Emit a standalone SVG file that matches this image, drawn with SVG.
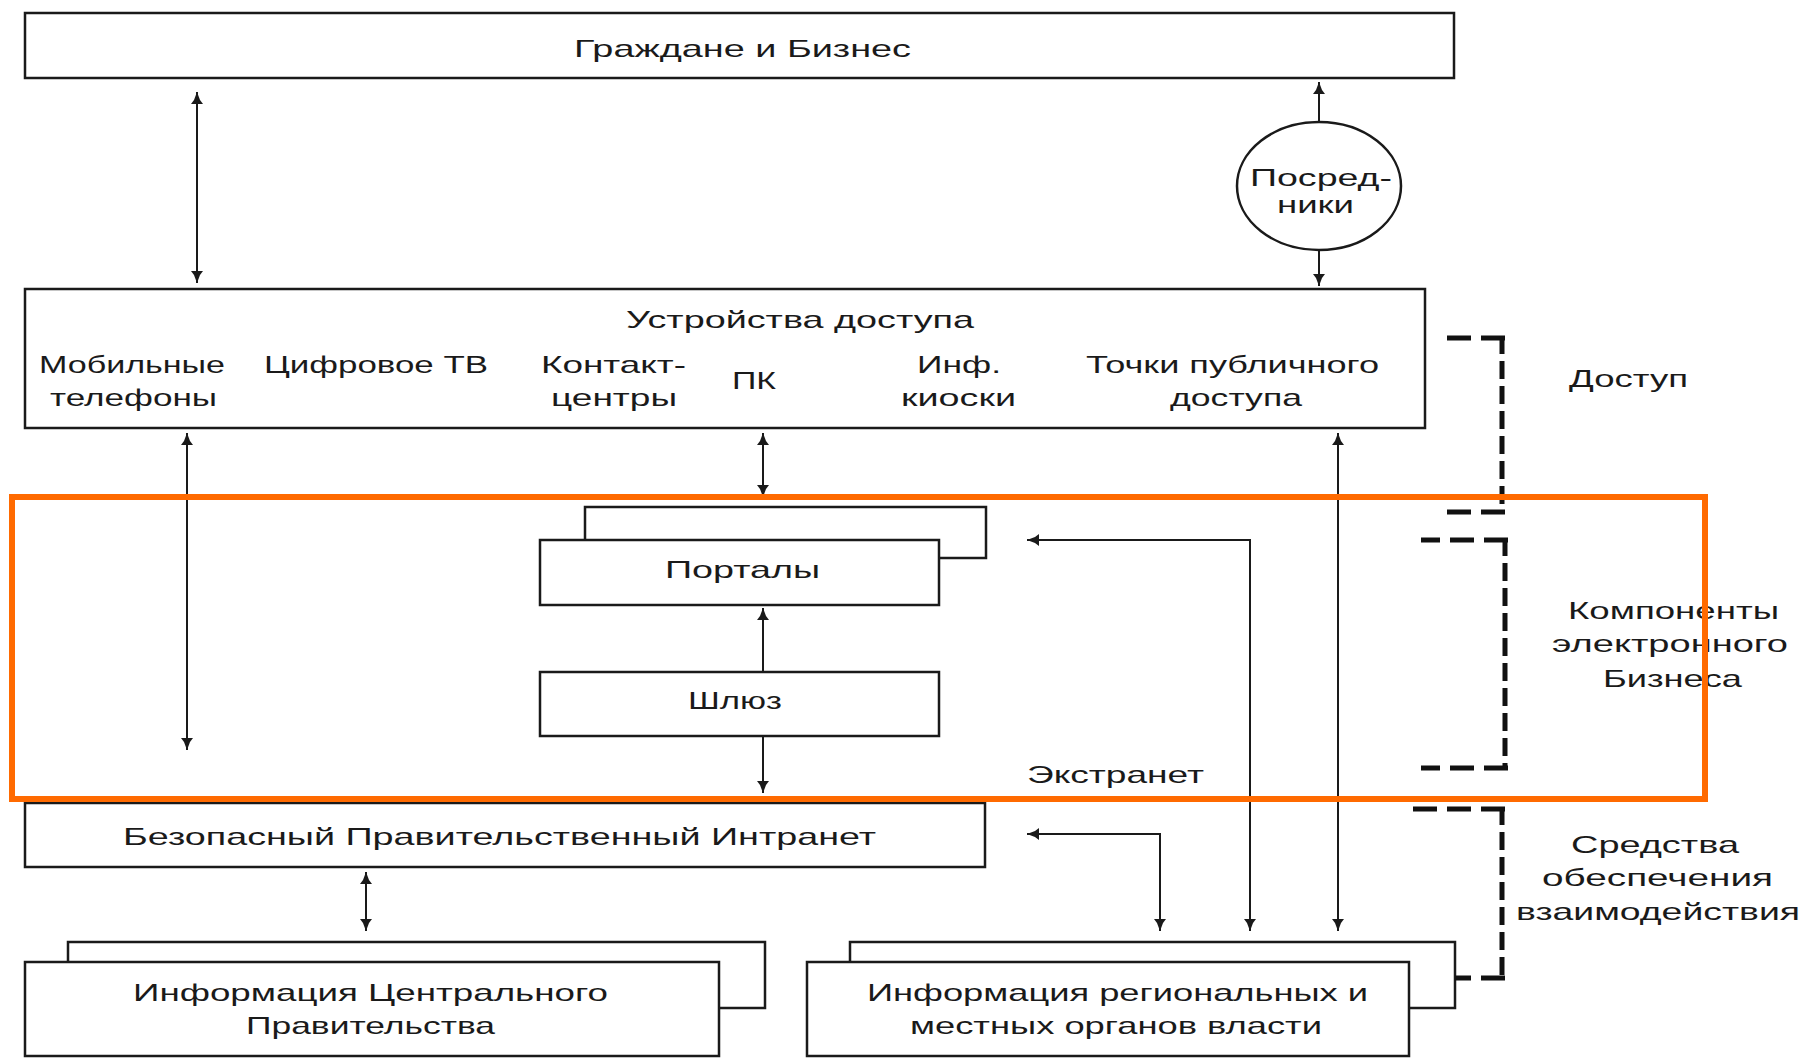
<svg xmlns="http://www.w3.org/2000/svg" width="1807" height="1058" viewBox="0 0 1807 1058">
  <style>
    .box { fill: #ffffff; stroke: #1a1a1a; stroke-width: 2.5; }
    .lbl { font-family: "Liberation Sans", Arial, sans-serif; font-size: 24px; fill: #1a1a1a; }
    .wire { fill: none; stroke: #1a1a1a; stroke-width: 2; }
    .dash-h { fill: none; stroke: #111111; stroke-width: 5; stroke-dasharray: 24 10; }
    .dash-v { fill: none; stroke: #111111; stroke-width: 5; stroke-dasharray: 18 7; }
    .frame { fill: none; stroke: #ff6a00; stroke-width: 6; }
  </style>
  <defs>
    <marker id="head" viewBox="0 0 12 12" refX="12" refY="6" markerWidth="12" markerHeight="12" markerUnits="userSpaceOnUse" orient="auto-start-reverse">
      <path d="M0,0 L4,3 L12,6 L4,9 L0,12 z" fill="#1a1a1a"/>
    </marker>
  </defs>
  <rect width="1807" height="1058" fill="#ffffff"/>

  <!-- Citizens and business -->
  <g id="citizens">
    <rect class="box" x="25" y="13" width="1429" height="65"/>
    <text class="lbl" x="574" y="57" textLength="337" lengthAdjust="spacingAndGlyphs">Граждане и Бизнес</text>
  </g>

  <!-- Intermediaries -->
  <g id="intermediaries">
    <ellipse class="box" cx="1319" cy="186" rx="82" ry="64"/>
    <text class="lbl" x="1250" y="186" textLength="142" lengthAdjust="spacingAndGlyphs">Посред-</text>
    <text class="lbl" x="1277" y="213" textLength="77" lengthAdjust="spacingAndGlyphs">ники</text>
  </g>

  <!-- Access devices -->
  <g id="access-devices">
    <rect class="box" x="25" y="289" width="1400" height="139"/>
    <text class="lbl" x="626" y="328" textLength="348" lengthAdjust="spacingAndGlyphs">Устройства доступа</text>
    <text class="lbl" x="39" y="373" textLength="186" lengthAdjust="spacingAndGlyphs">Мобильные</text>
    <text class="lbl" x="50" y="406" textLength="167" lengthAdjust="spacingAndGlyphs">телефоны</text>
    <text class="lbl" x="264" y="373" textLength="224" lengthAdjust="spacingAndGlyphs">Цифровое ТВ</text>
    <text class="lbl" x="541" y="373" textLength="145" lengthAdjust="spacingAndGlyphs">Контакт-</text>
    <text class="lbl" x="551" y="406" textLength="126" lengthAdjust="spacingAndGlyphs">центры</text>
    <text class="lbl" x="732" y="389" textLength="44" lengthAdjust="spacingAndGlyphs">ПК</text>
    <text class="lbl" x="917" y="373" textLength="84" lengthAdjust="spacingAndGlyphs">Инф.</text>
    <text class="lbl" x="901" y="406" textLength="115" lengthAdjust="spacingAndGlyphs">киоски</text>
    <text class="lbl" x="1086" y="373" textLength="293" lengthAdjust="spacingAndGlyphs">Точки публичного</text>
    <text class="lbl" x="1170" y="406" textLength="132" lengthAdjust="spacingAndGlyphs">доступа</text>
  </g>

  <!-- Portals (stacked) -->
  <g id="portals">
    <rect class="box" x="585" y="507" width="401" height="51"/>
    <rect class="box" x="540" y="540" width="399" height="65"/>
    <text class="lbl" x="665" y="578" textLength="155" lengthAdjust="spacingAndGlyphs">Порталы</text>
  </g>

  <!-- Gateway -->
  <g id="gateway">
    <rect class="box" x="540" y="672" width="399" height="64"/>
    <text class="lbl" x="688" y="709" textLength="94" lengthAdjust="spacingAndGlyphs">Шлюз</text>
  </g>

  <!-- Extranet label -->
  <g id="extranet">
    <text class="lbl" x="1027" y="783" textLength="177" lengthAdjust="spacingAndGlyphs">Экстранет</text>
  </g>

  <!-- Secure government intranet -->
  <g id="intranet">
    <rect class="box" x="25" y="803" width="960" height="64"/>
    <text class="lbl" x="123" y="845" textLength="753" lengthAdjust="spacingAndGlyphs">Безопасный Правительственный Интранет</text>
  </g>

  <!-- Central government information (stacked) -->
  <g id="central-info">
    <rect class="box" x="68" y="942" width="697" height="66"/>
    <rect class="box" x="25" y="962" width="694" height="94"/>
    <text class="lbl" x="133" y="1001" textLength="475" lengthAdjust="spacingAndGlyphs">Информация Центрального</text>
    <text class="lbl" x="246" y="1034" textLength="249" lengthAdjust="spacingAndGlyphs">Правительства</text>
  </g>

  <!-- Regional and local authorities information (stacked) -->
  <g id="regional-info">
    <rect class="box" x="850" y="942" width="605" height="66"/>
    <rect class="box" x="807" y="962" width="602" height="94"/>
    <text class="lbl" x="867" y="1001" textLength="501" lengthAdjust="spacingAndGlyphs">Информация региональных  и</text>
    <text class="lbl" x="910" y="1034" textLength="412" lengthAdjust="spacingAndGlyphs">местных органов власти</text>
  </g>

  <!-- Layer labels with dashed brackets (each stroke starts at a corner so corners stay solid) -->
  <g id="layer-access">
    <path class="dash-h" d="M1505,338 H1447"/>
    <path class="dash-v" d="M1502,336 V514"/>
    <path class="dash-h" d="M1505,512 H1447"/>
    <text class="lbl" x="1569" y="387" textLength="119" lengthAdjust="spacingAndGlyphs">Доступ</text>
  </g>
  <g id="layer-components">
    <path class="dash-h" d="M1508,540 H1421"/>
    <path class="dash-v" d="M1505,538 V770"/>
    <path class="dash-h" d="M1508,768 H1421"/>
    <text class="lbl" x="1568" y="619" textLength="211" lengthAdjust="spacingAndGlyphs">Компоненты</text>
    <text class="lbl" x="1552" y="652" textLength="236" lengthAdjust="spacingAndGlyphs">электронного</text>
    <text class="lbl" x="1603" y="687" textLength="139" lengthAdjust="spacingAndGlyphs">Бизнеса</text>
  </g>
  <g id="layer-interop">
    <path class="dash-h" d="M1505,809 H1412"/>
    <path class="dash-v" d="M1502,807 V980"/>
    <path class="dash-h" d="M1505,978 H1455"/>
    <text class="lbl" x="1571" y="853" textLength="168" lengthAdjust="spacingAndGlyphs">Средства</text>
    <text class="lbl" x="1542" y="886" textLength="231" lengthAdjust="spacingAndGlyphs">обеспечения</text>
    <text class="lbl" x="1516" y="920" textLength="284" lengthAdjust="spacingAndGlyphs">взаимодействия</text>
  </g>

  <!-- Connectors -->
  <g id="connectors">
    <path class="wire" d="M197,92 V283" marker-start="url(#head)" marker-end="url(#head)"/>
    <path class="wire" d="M1319,122 V82" marker-end="url(#head)"/>
    <path class="wire" d="M1319,250 V286" marker-end="url(#head)"/>
    <path class="wire" d="M187,433 V750" marker-start="url(#head)" marker-end="url(#head)"/>
    <path class="wire" d="M763,433 V497" marker-start="url(#head)" marker-end="url(#head)"/>
    <path class="wire" d="M1338,433 V931" marker-start="url(#head)" marker-end="url(#head)"/>
    <path class="wire" d="M763,672 V608" marker-end="url(#head)"/>
    <path class="wire" d="M763,736 V793" marker-end="url(#head)"/>
    <path class="wire" d="M366,872 V931" marker-start="url(#head)" marker-end="url(#head)"/>
    <path class="wire" d="M1250,931 V540 H1027" marker-start="url(#head)" marker-end="url(#head)"/>
    <path class="wire" d="M1160,931 V834 H1027" marker-start="url(#head)" marker-end="url(#head)"/>
  </g>

  <!-- Highlight frame around the e-business components layer -->
  <rect class="frame" x="12" y="497" width="1693" height="302"/>
</svg>
